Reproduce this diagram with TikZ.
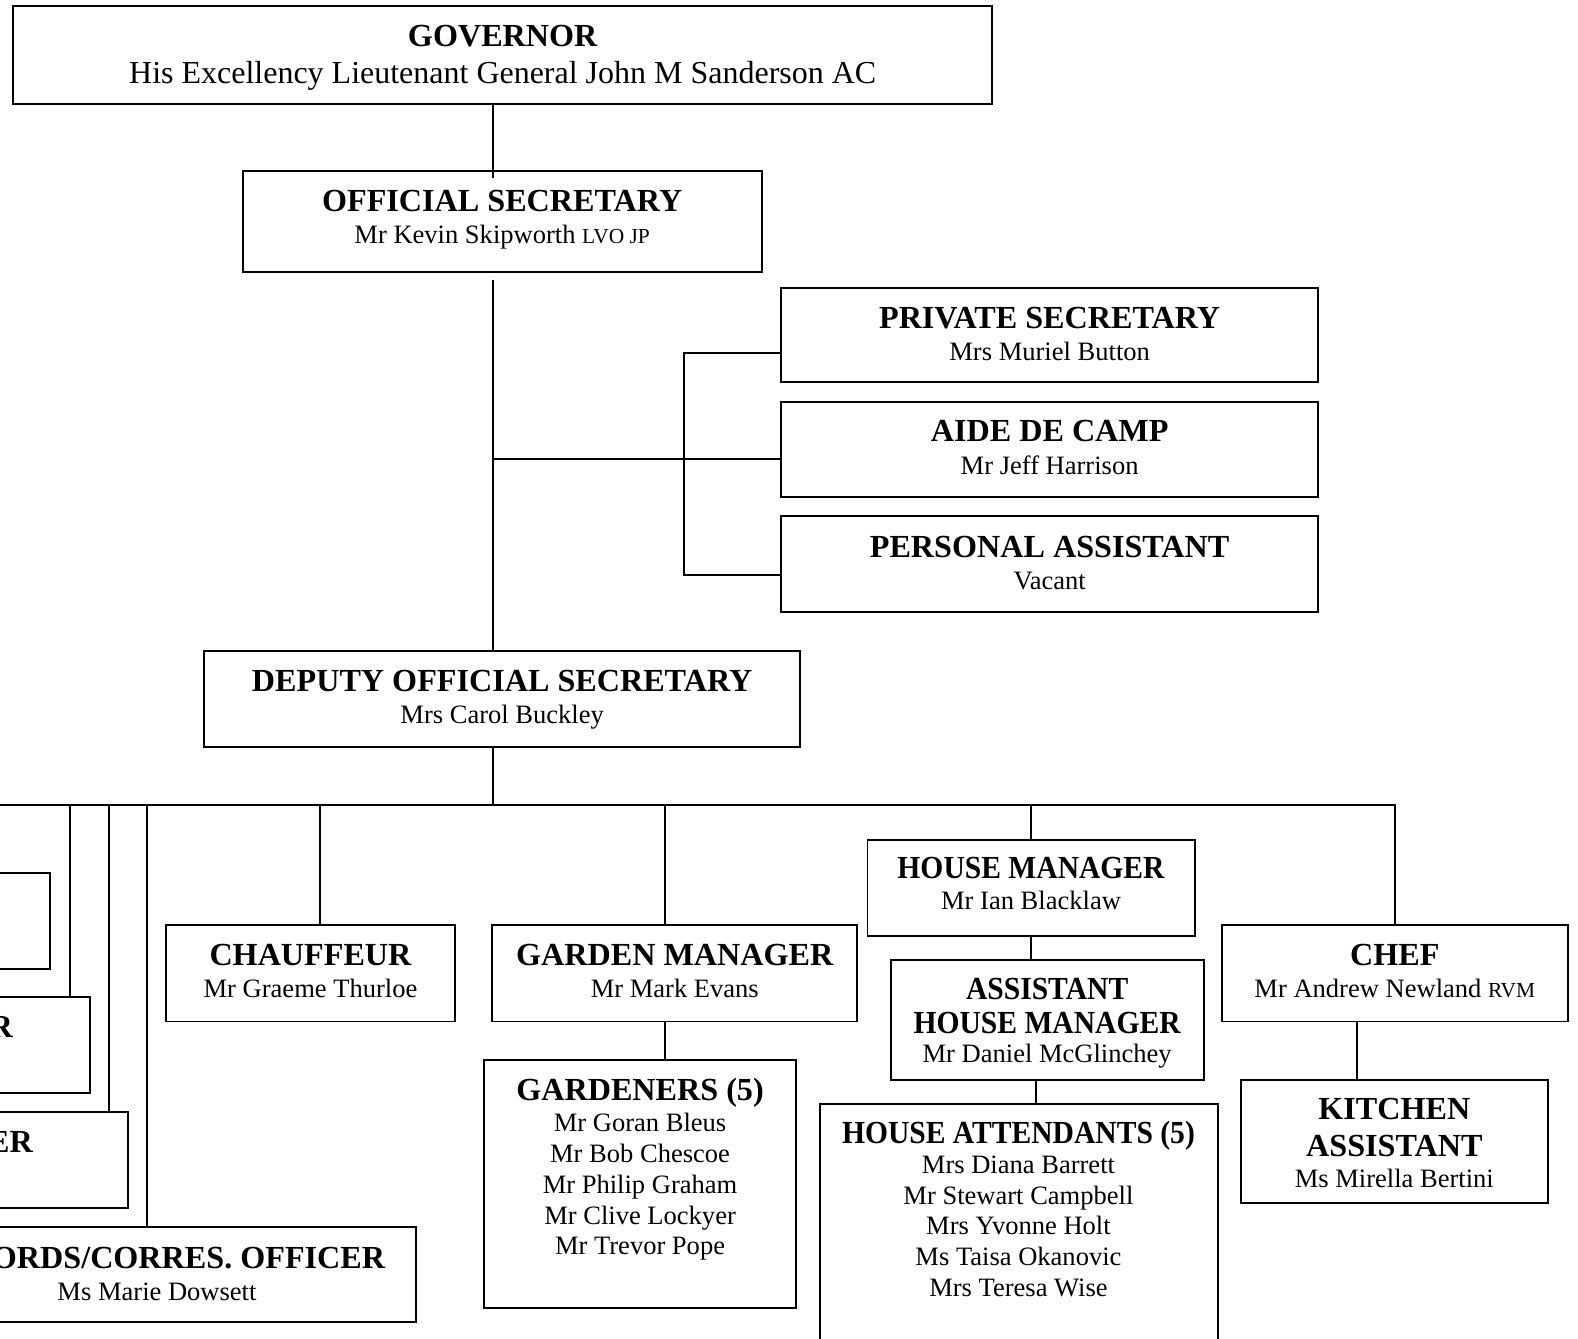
\documentclass[tikz,border=0pt]{standalone}
\usepackage{fontspec}
\setmainfont{Liberation Serif}
\usetikzlibrary{fit,calc}
\tikzset{
  box/.style={draw, line width=1.1pt, inner sep=0pt, rectangle},
  ln/.style={line width=1.1pt},
  hd/.style={font=\bfseries\fontsize{18.3}{20}\selectfont, anchor=base, inner sep=0pt},
  hdc/.style={font=\bfseries\fontsize{18.3}{20}\selectfont\addfontfeature{FakeStretch=0.92}, anchor=base, inner sep=0pt},
  nm/.style={font=\fontsize{15.1}{17}\selectfont, anchor=base, inner sep=0pt},
  gn/.style={font=\fontsize{18.2}{20}\selectfont, anchor=base, inner sep=0pt},
}
\newcommand{\postnom}[1]{{\fontsize{12.2}{14}\selectfont #1}}
\begin{document}
\begin{tikzpicture}[x=0.020128cm,y=-0.020128cm]
\useasboundingbox (0,0) rectangle (1568,1330);
\clip (0,0) rectangle (1568,1330);
% boxes
\node[box, fit={(13,6) (986,103)}] (gov) {};
\node[box, fit={(241,170) (757,270)}] (offsec) {};
\node[box, fit={(776,286) (1310,380)}] (psec) {};
\node[box, fit={(776,399) (1310,494)}] (adc) {};
\node[box, fit={(776,513) (1310,608)}] (pa) {};
\node[box, fit={(203,647) (795,742)}] (deputy) {};
\node[box, fit={(-200,867) (50,963)}] (boxA) {};
\node[box, fit={(-200,991) (89,1086)}] (boxB) {};
\node[box, fit={(-200,1105) (127,1200)}] (boxC) {};
\node[box, fit={(-101,1219) (413,1314)}] (records) {};
\node[box, fit={(165,919) (452,1015)}] (chauf) {};
\node[box, fit={(489,919) (852,1015)}] (gm) {};
\node[box, fit={(481,1053) (791,1300)}] (gard) {};
\node[box, fit={(862,835) (1187,930)}] (hm) {};
\node[box, fit={(885,954) (1196,1073)}] (ahm) {};
\node[box, fit={(815,1097) (1210,1370)}] (ha) {};
\node[box, fit={(1214,919) (1558,1015)}] (chef) {};
\node[box, fit={(1233,1073) (1538,1195)}] (kitchen) {};
% texts
\node[hd] (govH) at (499.5,46) {GOVERNOR};
\node[gn] (govN) at (499.5,83) {His Excellency Lieutenant General John M Sanderson AC};
\node[hd] (offsecH) at (499,210) {OFFICIAL SECRETARY};
\node[nm] (offsecN) at (499,242) {Mr Kevin Skipworth \postnom{LVO JP}};
\node[hd] (psecH) at (1043,326) {PRIVATE SECRETARY};
\node[nm] (psecN) at (1043,358) {Mrs Muriel Button};
\node[hd] (adcH) at (1043,439) {AIDE DE CAMP};
\node[nm] (adcN) at (1043,471) {Mr Jeff Harrison};
\node[hd] (paH) at (1043,554) {PERSONAL ASSISTANT};
\node[nm] (paN) at (1043,586) {Vacant};
\node[hd] (depH) at (499,687) {DEPUTY OFFICIAL SECRETARY};
\node[nm] (depN) at (499,719) {Mrs Carol Buckley};
\node[hd, anchor=base east] (boxBH) at (13,1031) {R};
\node[hd, anchor=base east] (boxCH) at (33,1145) {ER};
\node[hd, anchor=base east] (recH) at (383,1260) {ORDS/CORRES. OFFICER};
\node[nm] (recN) at (156,1292) {Ms Marie Dowsett};
\node[hd] (chaufH) at (308.5,959) {CHAUFFEUR};
\node[nm] (chaufN) at (308.5,991) {Mr Graeme Thurloe};
\node[hd] (gmH) at (670.5,959) {GARDEN MANAGER};
\node[nm] (gmN) at (670.5,991) {Mr Mark Evans};
\node[hd] (gardH) at (636,1094) {GARDENERS (5)};
\foreach \t [count=\i] in {Mr Goran Bleus,Mr Bob Chescoe,Mr Philip Graham,Mr Clive Lockyer,Mr Trevor Pope}
  \node[nm] (gardN\i) at (636,{1124+(\i-1)*30.75}) {\t};
\node[hdc] (hmH) at (1024.5,873) {HOUSE MANAGER};
\node[nm] (hmN) at (1024.5,904) {Mr Ian Blacklaw};
\node[hdc] (ahmH1) at (1040.5,993) {ASSISTANT};
\node[hdc] (ahmH2) at (1040.5,1027) {HOUSE MANAGER};
\node[nm] (ahmN) at (1040.5,1056) {Mr Daniel McGlinchey};
\node[hdc] (haH) at (1012,1136) {HOUSE ATTENDANTS (5)};
\foreach \t [count=\i] in {Mrs Diana Barrett,Mr Stewart Campbell,Mrs Yvonne Holt,Ms Taisa Okanovic,Mrs Teresa Wise}
  \node[nm] (haN\i) at (1012,{1166+(\i-1)*30.5}) {\t};
\node[hd] (chefH) at (1386,959) {CHEF};
\node[nm] (chefN) at (1386,991) {Mr Andrew Newland \postnom{RVM}};
\node[hd] (kitH1) at (1385.5,1112) {KITCHEN};
\node[hd] (kitH2) at (1385.5,1149) {ASSISTANT};
\node[nm] (kitN) at (1385.5,1180) {Ms Mirella Bertini};
% helper coordinates
\coordinate (sx) at (490,0);
\coordinate (yA) at (0,456);
\coordinate (bx) at (680,0);
\coordinate (yP) at (0,351);
\coordinate (yPA) at (0,571);
\coordinate (busL) at (-5,800);
\coordinate (dB) at (70,0);
\coordinate (dC) at (108,0);
\coordinate (dR) at (146,0);
\coordinate (dCh) at (318,0);
\coordinate (dG) at (661,0);
\coordinate (dHA) at (1029,0);
\coordinate (dK) at (1348,0);
% connectors
\draw[ln] (gov.south -| sx) -- ($(offsec.north -| sx)+(0,8)$);
\draw[ln] ($(offsec.south -| sx)+(0,7)$) -- (deputy.north -| sx);
\draw[ln] (sx |- yA) -- (adc.west |- yA);
\draw[ln] (psec.west |- yP) -- (bx |- yP) -- (bx |- yPA) -- (pa.west |- yPA);
\draw[ln] (deputy.south -| sx) -- (sx |- busL);
\draw[ln] (busL) -- (chef.north |- busL) -- (chef.north);
\draw[ln] (dB |- busL) -- (boxB.north -| dB);
\draw[ln] (dC |- busL) -- (boxC.north -| dC);
\draw[ln] (dR |- busL) -- (records.north -| dR);
\draw[ln] (dCh |- busL) -- (chauf.north -| dCh);
\draw[ln] (dG |- busL) -- (gm.north -| dG);
\draw[ln] (hm.north |- busL) -- (hm.north);
\draw[ln] (gm.south -| dG) -- (gard.north -| dG);
\draw[ln] (hm.south) -- (ahm.north -| hm.south);
\draw[ln] (ahm.south -| dHA) -- (ha.north -| dHA);
\draw[ln] (chef.south -| dK) -- (kitchen.north -| dK);
\end{tikzpicture}
\end{document}
